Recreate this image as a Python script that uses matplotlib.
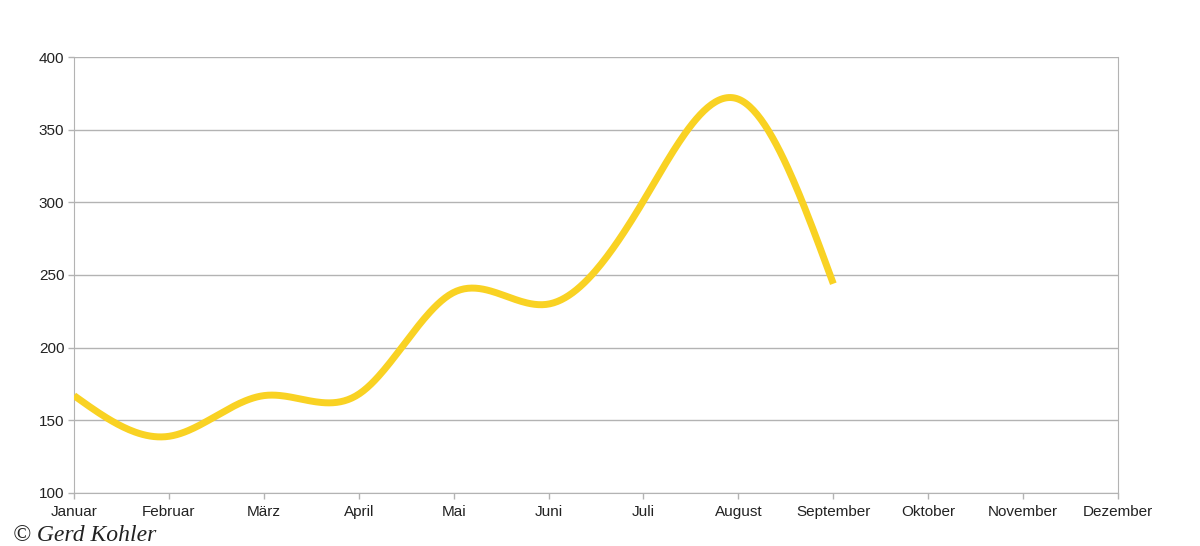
import numpy as np
from matplotlib import pyplot as plt

months = ['Januar', 'Februar', 'März', 'April', 'Mai', 'Juni', 'Juli',
          'August', 'September', 'Oktober', 'November', 'Dezember']
values = [167, 139, 167, 168, 238, 230, 301, 371, 244]


def natural_spline(x, y, num=400):
    # natural cubic spline, used only to draw the smoothed line
    x = np.asarray(x, float)
    y = np.asarray(y, float)
    n = len(x)
    h = np.diff(x)
    A = np.zeros((n, n))
    b = np.zeros(n)
    A[0, 0] = A[-1, -1] = 1.
    for i in range(1, n - 1):
        A[i, i - 1] = h[i - 1]
        A[i, i] = 2 * (h[i - 1] + h[i])
        A[i, i + 1] = h[i]
        b[i] = 3 * ((y[i + 1] - y[i]) / h[i] - (y[i] - y[i - 1]) / h[i - 1])
    c = np.linalg.solve(A, b)
    xs = np.linspace(x[0], x[-1], num)
    idx = np.clip(np.searchsorted(x, xs) - 1, 0, n - 2)
    dx = xs - x[idx]
    bb = (y[idx + 1] - y[idx]) / h[idx] - h[idx] * (2 * c[idx] + c[idx + 1]) / 3
    d = (c[idx + 1] - c[idx]) / (3 * h[idx])
    ys = y[idx] + bb * dx + c[idx] * dx ** 2 + d * dx ** 3
    return xs, ys


plt.rcParams['font.family'] = ['Liberation Sans', 'DejaVu Sans']

fig = plt.figure(figsize=(12, 5.46), dpi=100)
ax = fig.add_axes([0.0617, 0.0971, 0.87, 0.7985])

xs, ys = natural_spline(np.arange(len(values)), values)
ax.plot(xs, ys, color='#F9D223', lw=5, solid_capstyle='butt', zorder=3)

ax.set_xlim(0, len(months) - 1)
ax.set_ylim(100, 400)
ax.set_xticks(range(len(months)))
ax.set_xticklabels(months)
ax.set_yticks(range(100, 401, 50))
ax.grid(axis='y', color='#b3b3b3', lw=1)
ax.set_axisbelow(True)

for side in ['left', 'bottom', 'right']:
    ax.spines[side].set_color('#b3b3b3')
ax.spines['top'].set_visible(False)
ax.tick_params(axis='both', colors='#b3b3b3', labelcolor='#222222',
               labelsize=11, length=4, width=1, pad=3)
ax.tick_params(axis='x', pad=5)

fig.text(0.011, 0.01, '© Gerd Kohler', fontsize=17, style='italic',
         family=['Liberation Serif', 'DejaVu Serif'], color='#222222')

fig.savefig('out.png', dpi=100)
